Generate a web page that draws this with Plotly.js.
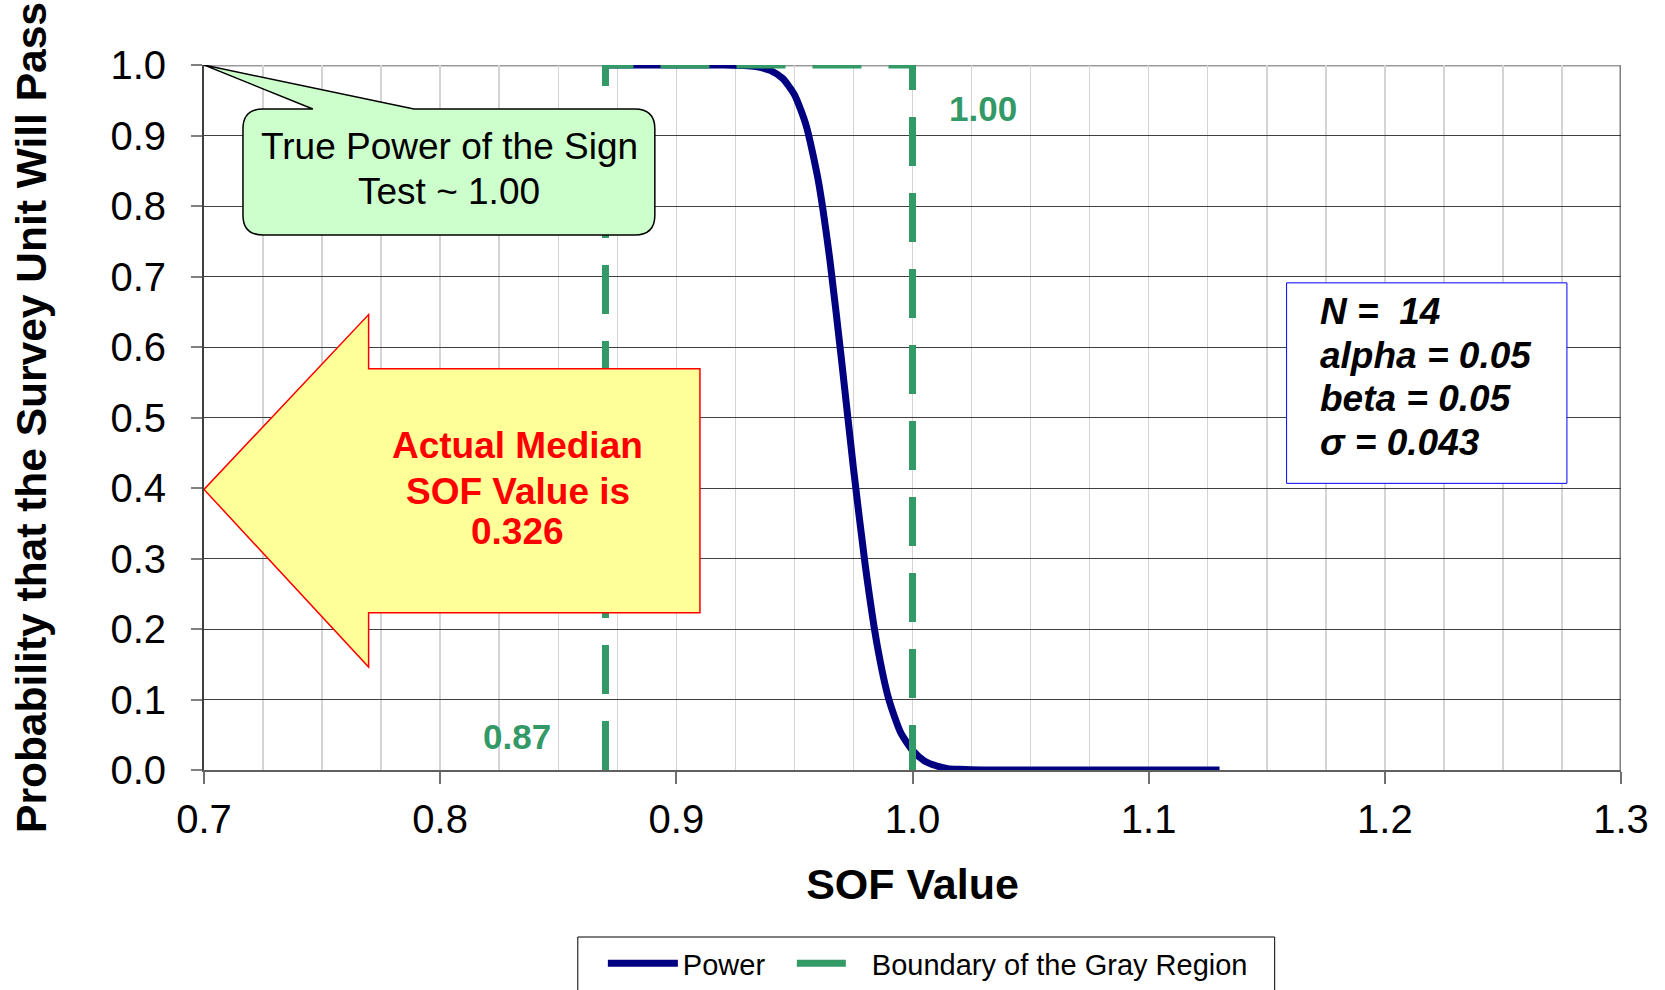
<!DOCTYPE html>
<html>
<head>
<meta charset="utf-8">
<script src="https://cdn.plot.ly/plotly-3.0.1.min.js"></script>
<style>html,body{margin:0;padding:0;background:#fff;}#chart{width:1665px;height:990px;}</style>
</head>
<body>
<div id="chart"></div>
<script>
// ---- data ----
const powerX = [0.87, 0.90, 0.92, 0.93, 0.935, 0.94, 0.945, 0.95, 0.955, 0.96, 0.965, 0.97, 0.975, 0.98, 0.985, 0.99, 0.995, 1.00, 1.005, 1.01, 1.015, 1.02, 1.03, 1.05, 1.13];
const powerY = [1.0, 1.0, 0.9999, 0.999, 0.997, 0.992, 0.981, 0.958, 0.914, 0.838, 0.724, 0.580, 0.428, 0.290, 0.178, 0.100, 0.053, 0.028, 0.013, 0.006, 0.002, 0.001, 0.0, 0.0, 0.0];
const boundaryX = [0.87, 0.87, 1.00, 1.00];
const boundaryY = [0, 1, 1, 0];
const xTickVals = [0.7, 0.8, 0.9, 1.0, 1.1, 1.2, 1.3];
const xTickText = ['0.7', '0.8', '0.9', '1.0', '1.1', '1.2', '1.3'];
const yTickVals = [0, 0.1, 0.2, 0.3, 0.4, 0.5, 0.6, 0.7, 0.8, 0.9, 1.0];
const yTickText = ['0.0', '0.1', '0.2', '0.3', '0.4', '0.5', '0.6', '0.7', '0.8', '0.9', '1.0'];
const seriesNames = ['Power', 'Boundary of the Gray Region'];
const grayLow = '0.87';
const grayHigh = '1.00';
const calloutLines = ['True Power of the Sign', 'Test ~ 1.00'];
const arrowLines = ['Actual Median', 'SOF Value is', '0.326'];
const paramLines = ['N =  14', 'alpha = 0.05', 'beta = 0.05', 'σ = 0.043'];

const FONT = 'Liberation Sans, Arial, sans-serif';

const traces = [
  {x: powerX, y: powerY, type: 'scatter', mode: 'lines', name: seriesNames[0], legendwidth: 104,
   line: {color: '#000080', width: 7, shape: 'spline', smoothing: 0.6}},
  {x: boundaryX, y: boundaryY, type: 'scatter', mode: 'lines', name: seriesNames[1],
   line: {color: '#339966', width: 7, dash: '49px,27px'}}
];

// callout geometry (data units)
const cL = 0.7165, cR = 0.8909, cT = 0.9376, cB = 0.7589, rx = 0.0085, ry = 0.028;
const calloutPath = `M${cL+rx},${cT} L0.7461,${cT} L0.7,1.0 L0.7889,${cT} L${cR-rx},${cT} Q${cR},${cT} ${cR},${cT-ry} L${cR},${cB+ry} Q${cR},${cB} ${cR-rx},${cB} L${cL+rx},${cB} Q${cL},${cB} ${cL},${cB+ry} L${cL},${cT-ry} Q${cL},${cT} ${cL+rx},${cT} Z`;
const arrowPath = 'M0.910,0.569 L0.7697,0.569 L0.7697,0.646 L0.7,0.398 L0.7697,0.146 L0.7697,0.223 L0.910,0.223 Z';

const shapes = [
  {type: 'line', xref: 'x', yref: 'y', x0: 0.7, x1: 1.3, y0: 1, y1: 1, layer: 'below', line: {color: '#9a9a9a', width: 3}},
  {type: 'line', xref: 'x', yref: 'y', x0: 1.3, x1: 1.3, y0: 0, y1: 1, layer: 'below', line: {color: '#808080', width: 3}},
  {type: 'path', xref: 'x', yref: 'y', path: calloutPath, fillcolor: '#CCFFCC', line: {color: '#000000', width: 1.5}, layer: 'above'},
  {type: 'path', xref: 'x', yref: 'y', path: arrowPath, fillcolor: '#FFFF99', line: {color: '#FF0000', width: 1.5}, layer: 'above'},
  {type: 'rect', xref: 'x', yref: 'y', x0: 1.1584, x1: 1.2771, y0: 0.4066, y1: 0.691, fillcolor: '#FFFFFF', line: {color: '#0000FF', width: 1}, layer: 'above'},
  // legend frame (runs past the bottom edge, as in the reference)
  {type: 'rect', xref: 'paper', yref: 'paper', x0: 0.2638, x1: 0.7556, y0: -0.2369, y1: -0.40, fillcolor: 'rgba(0,0,0,0)', line: {color: '#000000', width: 1}, layer: 'below'}
];

const annotations = [];
const calloutY = [0.8844, 0.8211];
calloutLines.forEach((t, i) => annotations.push({x: 0.8038, y: calloutY[i], xref: 'x', yref: 'y', text: t, showarrow: false,
  font: {family: FONT, size: 37, color: '#000'}}));
const arrowY = [0.4596, 0.3957, 0.3376];
arrowLines.forEach((t, i) => annotations.push({x: 0.8329, y: arrowY[i], xref: 'x', yref: 'y', text: t, showarrow: false,
  font: {family: FONT, size: 37, color: '#FF0000', weight: 'bold'}}));
const paramY = [0.651, 0.588, 0.527, 0.465];
paramLines.forEach((t, i) => annotations.push({x: 1.1715, y: paramY[i], xref: 'x', yref: 'y', xanchor: 'left', text: t, showarrow: false,
  font: {family: FONT, size: 37, color: '#000', weight: 'bold', style: 'italic'}}));
annotations.push({x: 1.0297, y: 0.939, xref: 'x', yref: 'y', text: grayHigh, showarrow: false,
  font: {family: FONT, size: 35, color: '#339966', weight: 'bold'}});
annotations.push({x: 0.8325, y: 0.048, xref: 'x', yref: 'y', text: grayLow, showarrow: false,
  font: {family: FONT, size: 35, color: '#339966', weight: 'bold'}});

const layout = {
  width: 1665, height: 990,
  margin: {l: 204, r: 43.5, t: 65, b: 220, pad: 0, autoexpand: false},
  paper_bgcolor: '#ffffff', plot_bgcolor: '#ffffff',
  font: {family: FONT, color: '#000'},
  showlegend: true,
  legend: {orientation: 'h', x: 0.28148, xanchor: 'left', y: -0.2383, yanchor: 'top',
    borderwidth: 0, bgcolor: 'rgba(0,0,0,0)', font: {family: FONT, size: 29, color: '#000'},
    itemwidth: 70},
  xaxis: {
    range: [0.7, 1.3], tickmode: 'array', tickvals: xTickVals, ticktext: xTickText,
    showgrid: true, gridcolor: '#d4d4d4', gridwidth: 1.5,
    minor: {dtick: 0.025, tick0: 0.7, showgrid: true, gridcolor: '#d4d4d4', gridwidth: 1.5, ticks: ''},
    showline: true, linecolor: '#606060', linewidth: 2,
    ticks: 'outside', ticklen: 12, tickwidth: 2, tickcolor: '#707070',
    ticklabelstandoff: 1,
    tickfont: {family: FONT, size: 40, color: '#000'},
    zeroline: false,
    title: {text: 'SOF Value', font: {family: FONT, size: 43, color: '#000', weight: 'bold'}, standoff: 29}
  },
  yaxis: {
    range: [0, 1], tickmode: 'array', tickvals: yTickVals, ticktext: yTickText,
    showgrid: true, gridcolor: '#404040', gridwidth: 1,
    showline: true, linecolor: '#404040', linewidth: 2,
    ticks: 'outside', ticklen: 11, tickwidth: 2, tickcolor: '#808080',
    ticklabelstandoff: 17,
    tickfont: {family: FONT, size: 40, color: '#000'},
    zeroline: false,
    title: {text: 'Probability that the Survey Unit Will Pass', font: {family: FONT, size: 42.5, color: '#000', weight: 'bold'}, standoff: 51}
  },
  shapes: shapes,
  annotations: annotations
};

Plotly.newPlot('chart', traces, layout, {displayModeBar: false, staticPlot: true});
</script>
</body>
</html>
